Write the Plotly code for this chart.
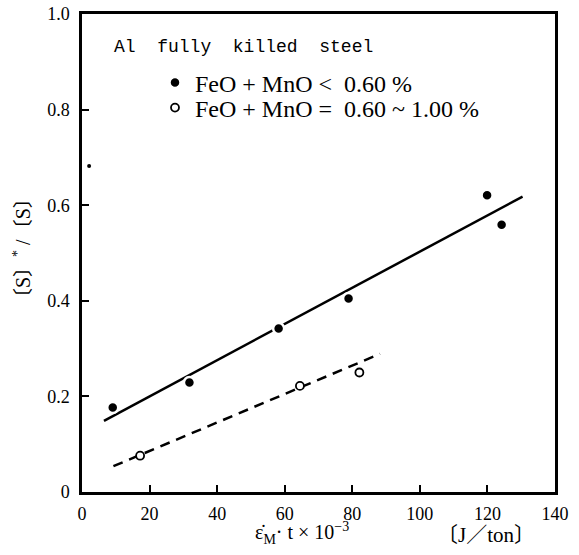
import plotly.graph_objects as go

# Data
filled_x = [9.1, 31.8, 58.2, 78.9, 119.9, 124.2]
filled_y = [0.177, 0.229, 0.342, 0.405, 0.621, 0.559]
open_x = [17.2, 64.5, 82.1]
open_y = [0.076, 0.222, 0.250]
solid_fit_x = [6.5, 130.4]
solid_fit_y = [0.149, 0.618]
dashed_fit_x = [9.3, 88.2]
dashed_fit_y = [0.054, 0.289]
stray_x = [2.1]
stray_y = [0.682]

x_ticks = [0, 20, 40, 60, 80, 100, 120, 140]
y_ticks = [0, 0.2, 0.4, 0.6, 0.8, 1.0]
y_tick_labels = ["0", "0.2", "0.4", "0.6", "0.8", "1.0"]

W, H = 579, 555
L, R, T, B = 82, 555, 14, 492

def px(x):
    return (x - L) / (R - L)

def py(y):
    return (B - y) / (B - T)

serif = "Liberation Serif, Times New Roman, serif"

fig = go.Figure()
fig.add_trace(go.Scatter(x=solid_fit_x, y=solid_fit_y, mode="lines",
                         line=dict(color="black", width=2.5), showlegend=False, hoverinfo="skip"))
fig.add_trace(go.Scatter(x=dashed_fit_x, y=dashed_fit_y, mode="lines",
                         line=dict(color="black", width=2.5, dash="10px,7px"), showlegend=False, hoverinfo="skip"))
fig.add_trace(go.Scatter(x=filled_x, y=filled_y, mode="markers", name="FeO + MnO <\u00a0 0.60 %",
                         legend="legend",
                         marker=dict(symbol="circle", size=11, color="black", line=dict(color="white", width=2.5))))
fig.add_trace(go.Scatter(x=open_x, y=open_y, mode="markers", name="FeO + MnO =\u00a0 0.60 ~ 1.00 %",
                         legend="legend2",
                         marker=dict(symbol="circle", size=8, color="white", line=dict(color="black", width=1.8))))
fig.add_trace(go.Scatter(x=stray_x, y=stray_y, mode="markers", showlegend=False, hoverinfo="skip",
                         marker=dict(symbol="circle", size=4, color="black")))

axis_common = dict(showgrid=False, zeroline=False, ticks="inside", ticklen=7, tickwidth=1.5,
                   tickcolor="black", showline=True, linecolor="black", linewidth=2.5, mirror=True,
                   automargin=False,
                   tickfont=dict(family=serif, size=18, color="black"))

fig.update_xaxes(range=[0, 140], tickvals=x_ticks, ticklabelstandoff=4, **axis_common)
fig.update_yaxes(range=[0, 1.0], tickvals=y_ticks, ticktext=y_tick_labels, ticklabelstandoff=6, **axis_common)

leg_font = dict(family=serif, size=24, color="black")
fig.update_layout(
    width=W, height=H,
    margin=dict(l=L, r=W - R, t=T, b=H - B, autoexpand=False),
    paper_bgcolor="white", plot_bgcolor="white",
    showlegend=True,
    legend=dict(x=px(155), y=py(83), xanchor="left", yanchor="middle", bgcolor="rgba(0,0,0,0)",
                font=leg_font, itemsizing="trace"),
    legend2=dict(x=px(155), y=py(108), xanchor="left", yanchor="middle", bgcolor="rgba(0,0,0,0)",
                 font=leg_font, itemsizing="trace"),
    annotations=[
        dict(text="Al  fully  killed  steel", x=px(112), y=py(47), xref="paper", yref="paper",
             xanchor="left", yanchor="middle", showarrow=False,
             font=dict(family="Liberation Mono, Courier New, monospace", size=18, color="black")),
        dict(text="ε̇<sub>M</sub>· t × 10<sup>−3</sup>", x=px(302), y=py(533), xref="paper", yref="paper",
             xanchor="center", yanchor="middle", showarrow=False,
             font=dict(family=serif, size=20, color="black")),
        dict(text="〔J／ton〕", x=px(486), y=py(535), xref="paper", yref="paper",
             xanchor="center", yanchor="middle", showarrow=False,
             font=dict(family=serif + ", Noto Sans CJK JP", size=21, color="black")),
        dict(text="〔S〕<sup>*</sup> /〔S〕", x=px(22), y=py(248), xref="paper", yref="paper",
             xanchor="center", yanchor="middle", showarrow=False, textangle=-90,
             font=dict(family=serif + ", Noto Sans CJK JP", size=20, color="black")),
    ],
)

fig.write_html("out.html", config={"displayModeBar": False},
               post_script="document.body.style.margin='0';document.body.style.padding='0';")
